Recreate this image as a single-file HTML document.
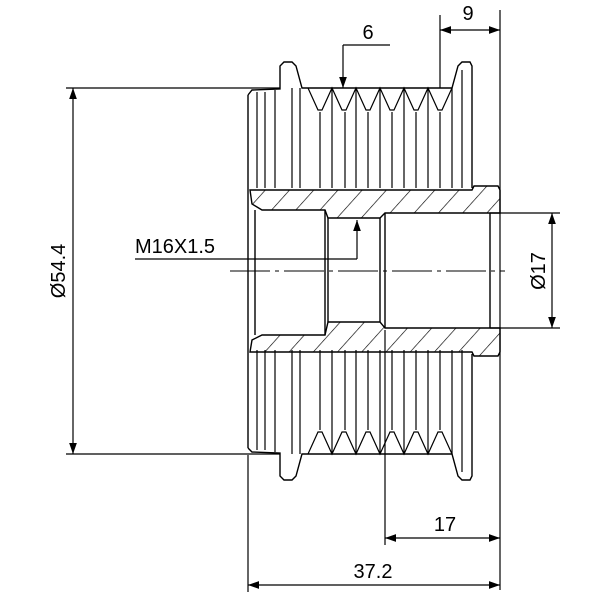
<!DOCTYPE html>
<html><head><style>body{margin:0;background:#fff}svg{display:block}text{font-family:"Liberation Sans",sans-serif;font-size:20px;fill:#000}</style></head><body>
<svg width="600" height="600" viewBox="0 0 600 600" xmlns="http://www.w3.org/2000/svg">
<defs>
<marker id="a" viewBox="0 0 10 10" refX="10" refY="5" markerWidth="11" markerHeight="11" markerUnits="userSpaceOnUse" orient="auto-start-reverse"><path d="M0,1.5L10,5L0,8.5z" fill="#000"/></marker>
<pattern id="h" width="18" height="18" patternUnits="userSpaceOnUse" patternTransform="rotate(42)"><line x1="0" y1="0" x2="0" y2="18" stroke="#000" stroke-width="1.3"/></pattern>
</defs>
<g stroke="#000" stroke-width="1.4" fill="none">
<path d="M248,95 L252,90 L280,89 L280,66 L284,62 L292,62 L296,66 L302,88 L452,88 L458,66 L462,62 L470,62 L472,66 L472,188"/>
<path d="M248,448 L252,452 L280,453 L280,476 L284,480 L292,480 L296,476 L302,454 L452,454 L458,476 L462,480 L470,480 L472,476 L472,354"/>
<line x1="248" y1="95" x2="248" y2="448"/>
<g stroke-width="1.2">
<path d="M257,92V188 M265,92V188 M275,90V188 M292,88V188 M300,88V188 M320,112V188 M332,88V188 M345,112V188 M356,88V188 M368,112V188 M380,88V188 M392,112V188 M404,88V188 M416,112V188 M428,88V188 M440,112V188 M452,88V188 M462,70V188"/>
<path d="M257,350V450 M265,350V450 M275,350V452 M292,350V454 M300,350V454 M320,350V430 M332,350V454 M345,350V430 M356,350V454 M368,350V430 M380,350V454 M392,350V430 M404,350V454 M416,350V430 M428,350V454 M440,350V430 M452,350V454 M462,350V472"/>
<path d="M308,88 L318,110 L322,110 L332,88 L342,110 L346,110 L356,88 L366,110 L370,110 L380,88 L390,110 L394,110 L404,88 L414,110 L418,110 L428,88 L438,110 L442,110 L452,88"/>
<path d="M308,454 L318,432 L322,432 L332,454 L342,432 L346,432 L356,454 L366,432 L370,432 L380,454 L390,432 L394,432 L404,454 L414,432 L418,432 L428,454 L438,432 L442,432 L452,454"/>
</g>
<path d="M250,190 L472,190 L474,186 L498,186 L500,190 L500,213 L385,213 L380,218 L328,218 L325,210 L262,210 L252,204 Z" fill="url(#h)"/>
<path d="M250,352 L472,352 L474,356 L498,356 L500,352 L500,328 L385,328 L380,322 L328,322 L325,335 L262,335 L252,340 Z" fill="url(#h)"/>
<path d="M255,210 V335 M325,210 V335 M328,218 V322 M380,218 V322 M385,213 V328 M490,213 V328"/>
<line x1="230" y1="271" x2="505" y2="271" stroke-width="1" stroke-dasharray="40,5,4,5"/>
<g stroke-width="1.2">
<path d="M66,88H280 M66,454H280"/>
<line x1="73" y1="88" x2="73" y2="454" marker-start="url(#a)" marker-end="url(#a)"/>
<path d="M440,15V88 M500,10V590"/>
<line x1="440" y1="30" x2="500" y2="30" marker-start="url(#a)" marker-end="url(#a)"/>
<path d="M390,45H343"/>
<line x1="343" y1="45" x2="343" y2="88" marker-end="url(#a)"/>
<path d="M490,213H560 M490,328H560"/>
<line x1="552" y1="213" x2="552" y2="328" marker-start="url(#a)" marker-end="url(#a)"/>
<path d="M135,259H357"/>
<line x1="357" y1="259" x2="357" y2="220" marker-end="url(#a)"/>
<path d="M385,330V545 M248,455V592"/>
<line x1="385" y1="538" x2="500" y2="538" marker-start="url(#a)" marker-end="url(#a)"/>
<line x1="248" y1="585" x2="500" y2="585" marker-start="url(#a)" marker-end="url(#a)"/>
</g>
</g>
<text x="468" y="20" text-anchor="middle">9</text>
<text x="368" y="39" text-anchor="middle">6</text>
<text x="135" y="253">M16X1.5</text>
<text x="445" y="531" text-anchor="middle">17</text>
<text x="373" y="578" text-anchor="middle">37.2</text>
<text transform="translate(65,271) rotate(-90)" text-anchor="middle">Ø54.4</text>
<text transform="translate(545,271) rotate(-90)" text-anchor="middle">Ø17</text>
</svg>
</body></html>
